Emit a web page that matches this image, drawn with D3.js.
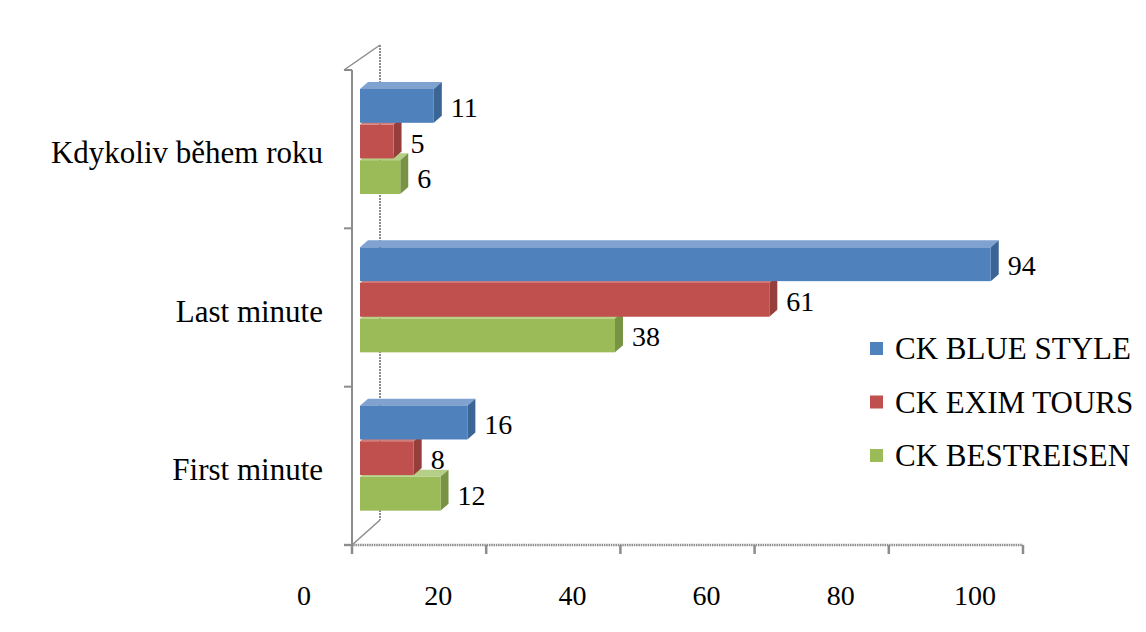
<!DOCTYPE html>
<html>
<head>
<meta charset="utf-8">
<script src="https://cdn.jsdelivr.net/npm/d3@7"></script>
<style>
  body { margin: 0; background: #fff; }
</style>
</head>
<body>
<div id="main"></div>
<script>
// 3d-ish horizontal bars, three tour operators
var categories = ["Kdykoliv během roku", "Last minute", "First minute"];
var series = ["CK BLUE STYLE", "CK EXIM TOURS", "CK BESTREISEN"];
var blueStyle = [11, 94, 16];
var eximTours = [5, 61, 8];
var bestReisen = [6, 38, 12];
var xTicks = [0, 20, 40, 60, 80, 100];

var values = [blueStyle, eximTours, bestReisen];
var front = ["#4F81BD", "#C0504D", "#9BBB59"];
var top_ = ["#7FA2D1", "#D37D7A", "#B5CF86"];
var side = ["#3B6594", "#963E3B", "#789343"];

var width = 1146, height = 632;
var dx = 8, dy = 7;      // depth of the bars
var wall = 28;           // offset of the back wall
var serif = "'Liberation Serif', 'Times New Roman', serif";

var svg = d3.select("#main")
	.append("svg")
	.attr("width", width)
	.attr("height", height)
	.style("font-family", serif);

var x = d3.scaleLinear()
	.domain([0, 100])
	.range([352, 1023]);

var y = d3.scaleBand()
	.domain(categories)
	.range([70, 545]);

var ys = d3.scaleBand()
	.domain(series)
	.range([19, 124])
	.paddingInner(0.05);

var grey = "#8c8c8c";

// back wall + floor edges
var frame = svg.append("g")
	.attr("stroke", grey)
	.attr("fill", "none");
frame.append("line")
	.attr("x1", x(0) + wall).attr("x2", x(0) + wall)
	.attr("y1", 70 - 25).attr("y2", 545 - 25)
	.attr("stroke-width", 2)
	.attr("stroke-dasharray", "2,1");
frame.append("line")
	.attr("x1", x(0) - 8).attr("y1", 70)
	.attr("x2", x(0) + wall).attr("y2", 70 - 25)
	.attr("stroke-width", 1.5);
frame.append("line")
	.attr("x1", x(0)).attr("y1", 545)
	.attr("x2", x(0) + wall).attr("y2", 545 - 25)
	.attr("stroke-width", 1.5);

// left axis
frame.append("line")
	.attr("x1", x(0)).attr("x2", x(0))
	.attr("y1", 70).attr("y2", 545)
	.attr("stroke-width", 2);
frame.selectAll(".ytick")
	.data(categories.map(c => y(c)).concat([y.range()[1]]))
	.join("line")
	.attr("x1", x(0) - 8).attr("x2", x(0))
	.attr("y1", d => d).attr("y2", d => d)
	.attr("stroke-width", 2);

// bottom axis
frame.append("line")
	.attr("x1", x(0) - 8).attr("x2", x(100))
	.attr("y1", 545).attr("y2", 545)
	.attr("stroke-width", 2.5)
	.attr("stroke-dasharray", "1.5,0.8");
frame.selectAll(".xtick")
	.data(xTicks)
	.join("line")
	.attr("x1", d => x(d)).attr("x2", d => x(d))
	.attr("y1", 545).attr("y2", 554)
	.attr("stroke-width", 2.5);

// tick labels sit left of the ticks (3d projection)
svg.append("g")
	.selectAll("text")
	.data(xTicks)
	.join("text")
	.style("font-family", serif)
	.style("font-size", "28px")
	.attr("text-anchor", "middle")
	.attr("x", d => x(d) - 48)
	.attr("y", 605)
	.text(d => d);

svg.append("g")
	.selectAll("text")
	.data(categories)
	.join("text")
	.style("font-family", serif)
	.style("font-size", "31px")
	.attr("text-anchor", "end")
	.attr("x", 323)
	.attr("y", d => y(d) + y.bandwidth() / 2 + 14)
	.text(d => d);

// bars, drawn bottom series first so upper fronts cover lower top faces
var x0 = x(0) + 8;
var bars = [];
categories.forEach(function(c, ci) {
	for (var si = series.length - 1; si >= 0; si--) {
		bars.push({cat: c, s: si, v: values[si][ci]});
	}
});

var g = svg.append("g");
bars.forEach(function(b) {
	var by = y(b.cat) + ys(series[b.s]);
	var h = ys.bandwidth();
	var x1 = x(b.v) + 8;
	g.append("polygon")
		.attr("points", [[x0, by], [x0 + dx, by - dy], [x1 + dx, by - dy], [x1, by]].join(" "))
		.attr("fill", top_[b.s]);
	g.append("polygon")
		.attr("points", [[x1, by], [x1 + dx, by - dy], [x1 + dx, by + h - dy], [x1, by + h]].join(" "))
		.attr("fill", side[b.s]);
	g.append("rect")
		.attr("x", x0).attr("y", by)
		.attr("width", x1 - x0).attr("height", h)
		.attr("fill", front[b.s]);
	g.append("text")
		.style("font-family", serif)
		.style("font-size", "28px")
		.attr("x", x1 + 17)
		.attr("y", by + h / 2 + 11)
		.text(b.v);
});

// legend
var legend = svg.append("g")
	.selectAll("g")
	.data(series)
	.join("g")
	.attr("transform", (d, i) => "translate(870," + (348 + i * 53.5) + ")");
legend.append("rect")
	.attr("x", 0).attr("y", -6)
	.attr("width", 13).attr("height", 13)
	.attr("fill", (d, i) => front[i]);
legend.append("text")
	.style("font-family", serif)
	.style("font-size", "31px")
	.attr("x", 25)
	.attr("y", 11)
	.text(d => d)
	.each(function() {
		// squeeze the long one so it stays inside the picture
		var room = width - 870 - 25 - 3;
		if (this.getComputedTextLength() > room) {
			d3.select(this)
				.attr("textLength", room)
				.attr("lengthAdjust", "spacingAndGlyphs");
		}
	});
</script>
</body>
</html>
